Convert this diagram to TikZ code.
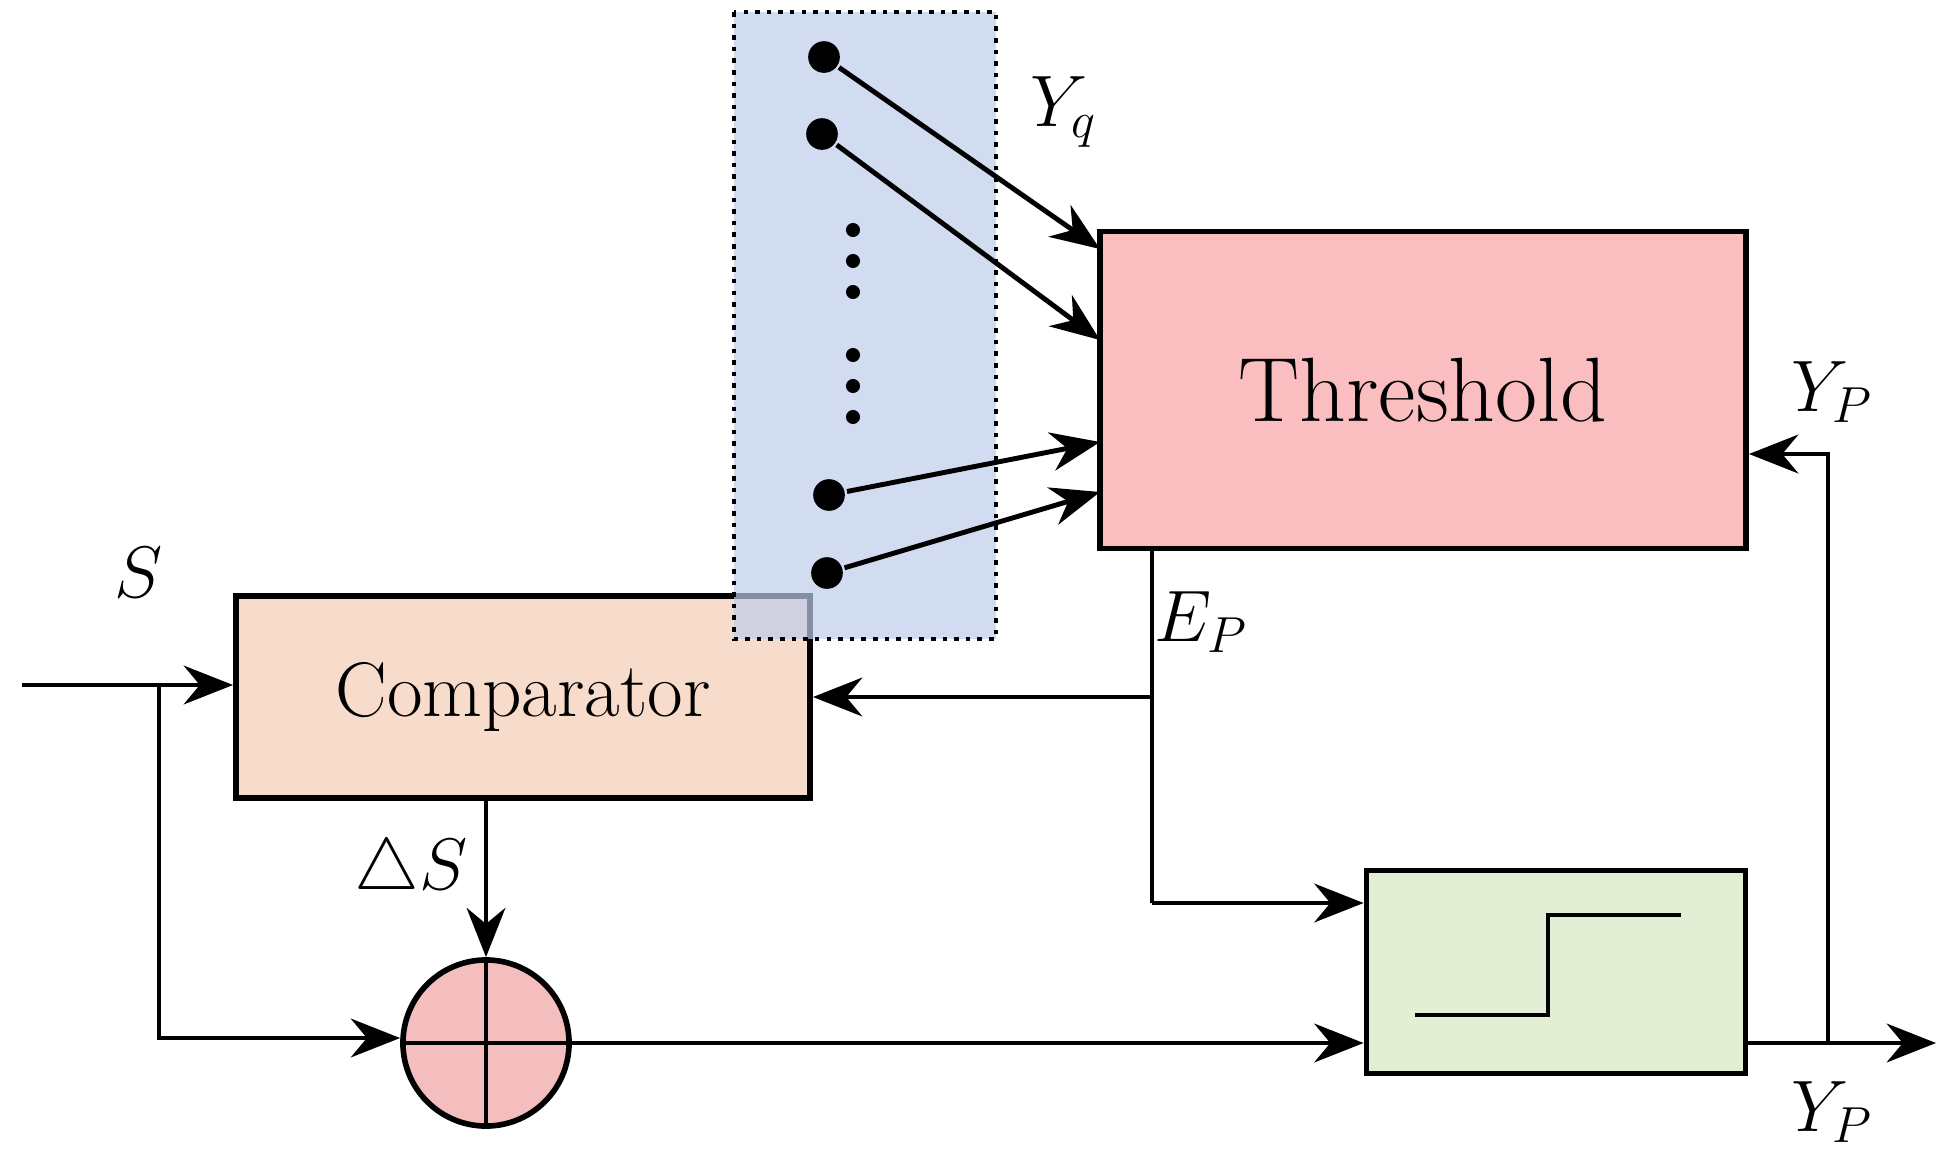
\documentclass[tikz,border=0pt]{standalone}
\usetikzlibrary{arrows.meta}
\definecolor{cmpc}{RGB}{248,220,203}
\definecolor{bluec}{RGB}{190,205,235}
\definecolor{thc}{RGB}{251,190,192}
\definecolor{stc}{RGB}{226,239,213}
\definecolor{sumc}{RGB}{244,189,190}
\begin{document}
\begin{tikzpicture}[x=0.01cm,y=-0.01cm,line width=1.4pt,
  box/.style={draw,line width=1.6pt,inner sep=0pt},
  ar/.style={-{Stealth[length=14pt,width=11pt]}},
  dot/.style={circle,fill,inner sep=0pt,minimum size=9pt},
  lab/.style={font=\fontsize{21}{24}\selectfont}]
\useasboundingbox (0,0) rectangle (1942,1148);
\node[box,fill=cmpc,minimum width=5.74cm,minimum height=2.02cm,font=\fontsize{22}{26}\selectfont] (cmp) at (523,697) {Comparator};
\fill[bluec,opacity=0.7] (734,12) rectangle (996,639);
\draw[dotted,line width=1.3pt] (734,12) rectangle (996,639);
\node[box,fill=thc,minimum width=6.46cm,minimum height=3.17cm,font=\fontsize{26}{30}\selectfont] (th) at (1423,390) {Threshold};
\node[box,fill=stc,minimum width=3.79cm,minimum height=2.03cm] (st) at (1556,972) {};
\draw (1415,1015) -- (1548,1015) -- (1548,915) -- (1681,915);
\node[circle,draw,line width=1.6pt,fill=sumc,minimum size=1.66cm,inner sep=0pt] (sum) at (486,1043) {};
\draw (sum.north) -- (sum.south) (sum.west) -- (sum.east);
\node[dot] (d1) at (824,57) {};
\node[dot] (d2) at (822,134) {};
\node[dot] (d3) at (829,495) {};
\node[dot] (d4) at (827,573) {};
\foreach \y in {230,261,292,355,386,417} \fill (853,\y) circle (2pt);
\coordinate (t1) at (1100,249);
\coordinate (t2) at (1100,340);
\coordinate (t3) at (1100,442);
\coordinate (t4) at (1100,492);
\draw[ar] (d1) -- (t1);
\draw[ar] (d2) -- (t2);
\draw[ar] (d3) -- (t3);
\draw[ar] (d4) -- (t4);
\node[lab] at (1064,112) {$Y_q$};
\coordinate (in) at (22,685);
\draw[ar] (in) -- (cmp.west |- in);
\coordinate (br) at (159,685);
\coordinate (brd) at (159,1038);
\draw[ar] (br) -- (brd) -- (sum.west |- brd);
\node[lab] at (139,573) {$S$};
\coordinate (cb) at (486,798);
\draw[ar] (cb) -- (sum.north);
\node[lab] at (411,871) {$\triangle S$};
\draw[ar] (sum.east) -- (st.west |- sum.east);
\coordinate (e0) at (1152,548);
\coordinate (e1) at (1152,697);
\coordinate (e2) at (1152,903);
\draw (e0) -- (e2);
\draw[ar] (e1) -- (cmp.east |- e1);
\draw[ar] (e2) -- (st.west |- e2);
\node[lab] at (1201,622) {$E_P$};
\coordinate (o1) at (1936,1043);
\coordinate (f1) at (1828,1043);
\coordinate (f2) at (1828,454);
\draw[ar] (st.east |- o1) -- (o1);
\draw[ar] (f1) -- (f2) -- (th.east |- f2);
\node[lab] at (1832,392) {$Y_P$};
\node[lab] at (1832,1112) {$Y_P$};
\end{tikzpicture}
\end{document}
